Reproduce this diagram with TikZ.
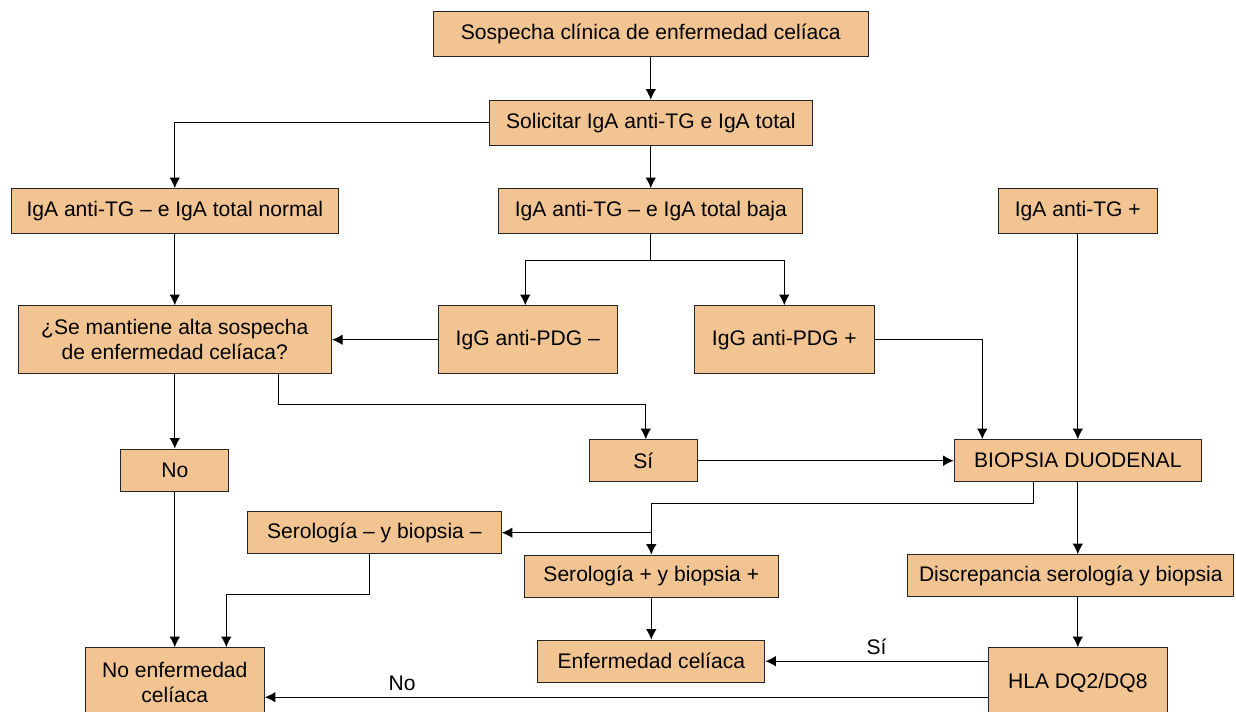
\documentclass[tikz,border=0pt]{standalone}
\usepackage{fontspec}
\setmainfont{Liberation Sans}
\usepackage{tikz}
\usetikzlibrary{shapes.geometric,positioning,arrows.meta}
\definecolor{boxfill}{RGB}{242,196,145}
\tikzstyle{stage} = [rectangle, minimum height=0.9cm, text centered, align=center, draw=black!85, fill=boxfill, line width=0.6pt, font=\fontsize{12}{14.2}\selectfont]
\tikzstyle{lstage} = [stage, minimum height=0.84cm]
\tikzstyle{tstage} = [stage, minimum height=1.36cm]
\tikzstyle{arrow} = [line width=0.6pt,-{Latex[length=6pt,width=6pt]}]
\tikzstyle{line} = [line width=0.6pt]
\tikzstyle{answer} = [above, font=\fontsize{12}{14.2}\selectfont]

\begin{document}
\begin{tikzpicture}[node distance=1.77cm]
\useasboundingbox (-13.016,-13.556) rectangle (11.704,0.684);
\node (suspect) [stage, minimum width=8.7cm] {Sospecha clínica de enfermedad celíaca};
\node (request) [stage, minimum width=6.45cm, below of=suspect] {Solicitar IgA anti-TG e IgA total};
\node (low) [stage, minimum width=6.08cm, below of=request] {IgA anti-TG – e IgA total baja};
\node (normal) [stage, minimum width=6.53cm, left of=low, xshift=-7.75cm] {IgA anti-TG – e IgA total normal};
\node (tgpos) [stage, minimum width=3.19cm, right of=low, xshift=6.77cm] {IgA anti-TG +};
\node (doubt) [tstage, minimum width=6.27cm, below of=normal, yshift=-0.8cm] {¿Se mantiene alta sospecha\\de enfermedad celíaca?};
\node (pdgneg) [tstage, minimum width=3.59cm, below of=low, xshift=-2.46cm, yshift=-0.8cm] {IgG anti-PDG –};
\node (pdgpos) [tstage, minimum width=3.59cm, below of=low, xshift=2.67cm, yshift=-0.8cm] {IgG anti-PDG +};
\node (no) [lstage, minimum width=2.16cm, below of=doubt, yshift=-0.84cm] {No};
\node (biopsy) [lstage, minimum width=4.94cm, below of=tgpos, yshift=-3.22cm] {BIOPSIA DUODENAL};
\node (yes) [lstage, minimum width=2.15cm, left of=biopsy, xshift=-6.92cm] {Sí};
\node (serpos) [lstage, minimum width=5.07cm, below of=yes, xshift=0.16cm, yshift=-0.54cm] {Serología + y biopsia +};
\node (serneg) [lstage, minimum width=5.08cm, left of=serpos, xshift=-3.77cm, yshift=0.87cm] {Serología – y biopsia –};
\node (discrep) [lstage, minimum width=6.52cm, below of=biopsy, xshift=-0.14cm, yshift=-0.53cm] {Discrepancia serología y biopsia};
\node (celiac) [lstage, minimum width=4.54cm, below of=serpos, yshift=0.07cm] {Enfermedad celíaca};
\node (hla) [stage, minimum width=3.58cm, minimum height=1.4cm, below of=discrep, xshift=0.14cm, yshift=-0.37cm] {HLA DQ2/DQ8};
\node (nonceliac) [stage, minimum width=3.58cm, minimum height=1.4cm, below of=no, yshift=-2.48cm] {No enfermedad\\celíaca};
\coordinate (split) at ([yshift=-0.53cm]low.south);
\coordinate (nofrom) at ([yshift=-0.29cm]hla.west);
\draw [arrow] (suspect) -- (request);
\draw [arrow] (request.west) -| (normal.north);
\draw [arrow] (request) -- (low);
\draw [line] (low.south) -- (split);
\draw [arrow] (split) -| ([xshift=-0.05cm]pdgneg.north);
\draw [arrow] (split) -| (pdgpos.north);
\draw [arrow] (normal) -- (doubt);
\draw [arrow] (pdgneg) -- (doubt);
\draw [arrow] (pdgpos.east) -| ([xshift=-1.91cm]biopsy.north);
\draw [arrow] (tgpos) -- (biopsy);
\draw [arrow] (doubt) -- (no);
\draw [arrow] ([xshift=2.08cm]doubt.south) -- ++(0,-0.6) -| ([xshift=0.05cm]yes.north);
\draw [arrow] (yes) -- (biopsy);
\draw [arrow] (no) -- (nonceliac);
\draw [arrow] ([xshift=-0.88cm]biopsy.south) -- ++(0,-0.42) -| (serpos.north);
\draw [arrow] (serpos.north |- serneg.east) -- (serneg.east);
\draw [arrow] (biopsy.south) -- (biopsy.south |- discrep.north);
\draw [arrow] ([xshift=-0.1cm]serneg.south) -- ++(0,-0.8) -| ([xshift=1.03cm]nonceliac.north);
\draw [arrow] (serpos) -- (celiac);
\draw [arrow] (hla.north |- discrep.south) -- (hla.north);
\draw [arrow] (hla.west |- celiac.east) -- node [answer] {Sí} (celiac.east);
\draw [arrow] (nofrom) -- node [answer, pos=0.81] {No} (nofrom -| nonceliac.east);
\end{tikzpicture}
\end{document}
